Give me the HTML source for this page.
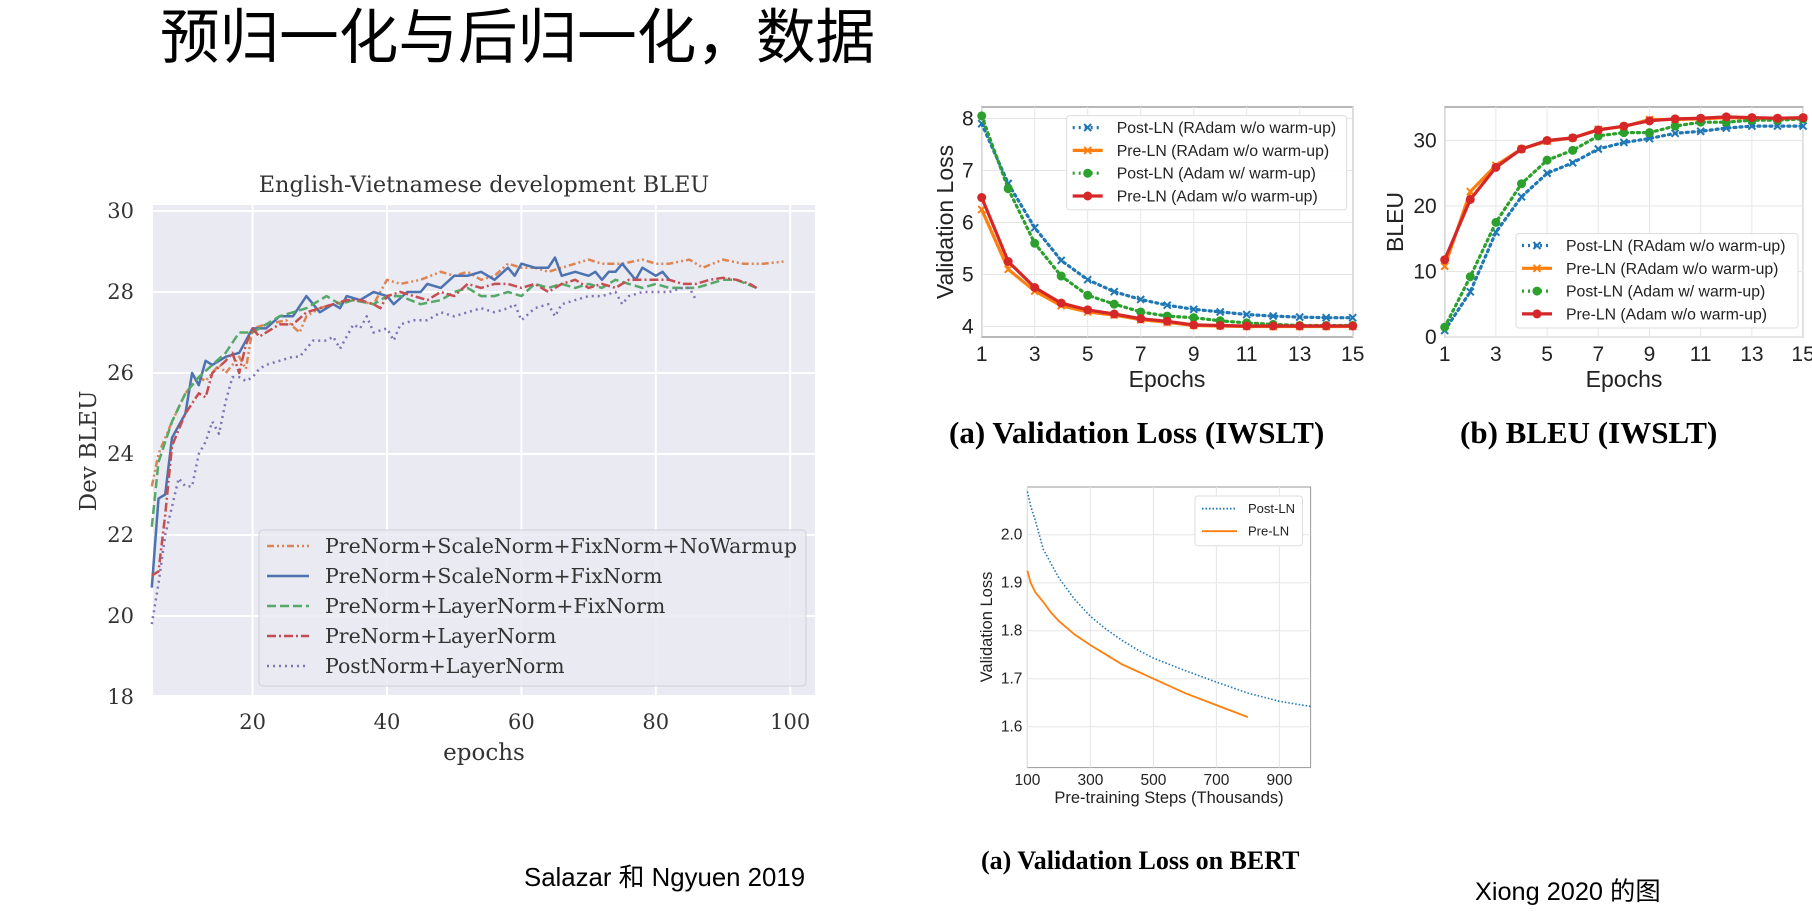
<!DOCTYPE html>
<html><head><meta charset="utf-8">
<style>
html,body{margin:0;padding:0;background:#fff;width:1812px;height:912px;overflow:hidden}
svg{display:block}
.serif{font-family:"DejaVu Serif","Liberation Serif",serif}
.sans{font-family:"Liberation Sans","DejaVu Sans",sans-serif}
.times{font-family:"Liberation Serif","Noto Serif CJK SC",serif}
.cjk{font-family:"Liberation Sans","Noto Sans CJK SC",sans-serif}
</style></head>
<body>
<svg id="s" width="1812" height="912" xmlns="http://www.w3.org/2000/svg">
<text x="160" y="58" class="cjk" font-size="59.6" fill="#000">预归一化与后归一化，数据</text>
<text x="524" y="886" class="cjk" font-size="25.8" fill="#000">Salazar 和 Ngyuen 2019</text>
<text x="1475" y="900" class="cjk" font-size="25.3" fill="#000">Xiong 2020 的图</text>
<text x="949" y="443" class="times" font-size="31" font-weight="bold" fill="#000">(a)  Validation Loss (IWSLT)</text>
<text x="1460" y="443" class="times" font-size="31" font-weight="bold" fill="#000">(b)  BLEU (IWSLT)</text>
<text x="981" y="869" class="times" font-size="26" font-weight="bold" fill="#000">(a)  Validation Loss on BERT</text>
<g id="g1"></g>
<g id="g2"></g>
<g id="g3"></g>
<g id="g4"></g>
</svg>
<script>
// ---------- Chart 1 data ----------
const nwEpochs=[5,6,8,10,12,13,15,16,18,19,20,22,25,27,28,30,32,35,38,40,42,45,48,50,52,54,56,58,60,62,64,66,68,70,72,75,78,80,82,85,87,90,93,96,99];
const nwVals=[23.2,24,24.8,25.5,25.9,25.8,26.2,26,26.4,26.1,27.1,27.2,27.3,27,27.4,27.6,27.7,27.8,27.7,28.3,28.2,28.3,28.5,28.4,28.5,28.3,28.4,28.7,28.6,28.6,28.5,28.6,28.7,28.8,28.7,28.7,28.8,28.7,28.7,28.8,28.6,28.8,28.7,28.7,28.75];
const snEpochs=[5,6,7,8,10,11,12,13,14,16,18,20,22,24,26,28,30,32,33,34,36,38,40,41,43,45,46,48,50,52,54,56,58,59,60,62,64,65,66,68,70,71,72,73,74,75,76,77,78,80,81,82];
const snVals=[20.7,22.9,23,24.4,25,26,25.7,26.3,26.2,26.4,26.5,27.1,27.1,27.4,27.4,27.9,27.5,27.7,27.6,27.9,27.8,28,27.9,27.7,28,28,28.2,28.1,28.4,28.4,28.5,28.3,28.6,28.4,28.7,28.6,28.6,28.85,28.4,28.5,28.4,28.5,28.3,28.5,28.5,28.7,28.5,28.3,28.6,28.4,28.5,28.3];
const lfEpochs=[5,6,8,10,12,14,16,18,20,22,24,26,28,30,31,33,35,38,40,42,45,48,50,52,54,56,58,60,62,64,66,68,70,72,74,76,78,80,82,84,86,88,90,92,95];
const lfVals=[22.2,23.8,24.8,25.5,25.9,26.2,26.5,27,27,27.2,27.4,27.5,27.6,27.8,27.9,27.7,27.8,27.7,27.9,27.9,27.7,27.8,28,28.1,27.9,27.9,28,27.9,28.2,28.1,28.2,28.1,28.2,28.1,28.3,28.2,28.1,28.2,28.1,28.1,28.1,28.2,28.3,28.3,28.1];
const lnEpochs=[5,6,7,8,10,12,13,14,16,17,18,19,20,21,22,24,26,28,30,32,34,36,38,39,40,42,44,46,48,50,52,54,56,58,60,62,64,66,68,70,72,74,76,78,80,82,84,86,88,90,92,94,95];
const lnVals=[21,21.1,22.5,24.2,25,25.5,25.4,26,26.3,26.5,26,26.7,27.1,26.9,27,27.2,27.2,27.5,27.6,27.7,27.8,27.8,27.7,27.6,27.9,28,27.9,27.8,28,27.9,28.2,28.1,28.2,28.2,28.1,28.2,28,28.2,28.3,28.1,28.2,28.1,28.3,28.3,28.3,28.3,28.2,28.2,28.3,28.35,28.3,28.2,28.1];
const pnEpochs=[5,6,7,8,9,10,11,12,13,14,15,16,17,18,19,20,21,22,24,26,27,28,29,31,32,33,34,35,36,37,38,40,41,42,44,46,48,50,52,54,56,58,59,60,62,64,65,66,68,70,72,74,75,76,78,80,82,84,85,86];
const pnVals=[19.8,20.8,22,22.7,23.4,23.2,23.2,24,24.3,24.8,24.5,25.3,25.9,25.9,25.8,25.9,26.1,26.2,26.3,26.4,26.4,26.6,26.8,26.8,26.9,26.6,26.9,27.2,27.1,27.4,27,27.1,26.8,27.2,27.3,27.3,27.5,27.4,27.5,27.6,27.5,27.6,27.7,27.3,27.6,27.7,27.4,27.7,27.8,27.9,27.9,28,27.7,27.9,28,28,28,28.1,28.1,27.8];
const c1XTicks=[20,40,60,80,100];
const c1YTicks=[18,20,22,24,26,28,30];
const c1Labels=["PreNorm+ScaleNorm+FixNorm+NoWarmup","PreNorm+ScaleNorm+FixNorm","PreNorm+LayerNorm+FixNorm","PreNorm+LayerNorm","PostNorm+LayerNorm"];
// ---------- Chart 2/3 data ----------
const iwEpochs=[1,2,3,4,5,6,7,8,9,10,11,12,13,14,15];
const lossPostRAdam=[7.9,6.75,5.9,5.27,4.9,4.67,4.52,4.41,4.33,4.28,4.23,4.2,4.18,4.17,4.17];
const lossPreRAdam=[6.25,5.1,4.68,4.4,4.28,4.22,4.13,4.08,4.02,4.01,4.0,4.0,4.0,4.0,4.0];
const lossPostAdam=[8.05,6.65,5.6,4.97,4.6,4.43,4.28,4.2,4.17,4.11,4.07,4.04,4.02,4.02,4.02];
const lossPreAdam=[6.48,5.25,4.75,4.45,4.32,4.24,4.15,4.1,4.03,4.02,4.01,4.01,4.01,4.01,4.01];
const bleuPostRAdam=[1,6.9,16,21.4,25,26.6,28.7,29.7,30.3,31.1,31.4,31.9,32.2,32.2,32.2];
const bleuPreRAdam=[10.8,22.2,26.2,28.7,29.9,30.4,31.7,32.1,33.2,33.2,33.3,33.5,33.4,33.3,33.4];
const bleuPostAdam=[1.5,9.2,17.5,23.4,27,28.5,30.7,31.2,31.2,32.2,32.8,32.8,33.1,33.1,33.3];
const bleuPreAdam=[11.8,21,25.9,28.7,30,30.4,31.6,32.2,33,33.3,33.4,33.6,33.5,33.4,33.5];
const iwXTicks=[1,3,5,7,9,11,13,15];
const lossYTicks=[4,5,6,7,8];
const bleuYTicks=[0,10,20,30];
const iwLabels=["Post-LN (RAdam w/o warm-up)","Pre-LN (RAdam w/o warm-up)","Post-LN (Adam w/ warm-up)","Pre-LN (Adam w/o warm-up)"];
// ---------- Chart 4 data ----------
const bertPostSteps=[100,110,125,150,175,200,250,300,350,400,450,500,600,700,800,900,1000];
const bertPostVals=[2.09,2.06,2.03,1.97,1.94,1.91,1.865,1.83,1.803,1.78,1.76,1.743,1.717,1.693,1.67,1.653,1.642];
const bertPreSteps=[100,110,125,150,175,200,250,300,350,400,450,500,600,700,800];
const bertPreVals=[1.925,1.9,1.88,1.86,1.838,1.82,1.792,1.77,1.75,1.73,1.715,1.70,1.67,1.645,1.62];
const bertXTicks=[100,300,500,700,900];
const bertYTicks=[1.6,1.7,1.8,1.9,2.0];
const bertLabels=["Post-LN","Pre-LN"];

const NS="http://www.w3.org/2000/svg";
function mk(p,t,a){const e=document.createElementNS(NS,t);for(const k in a)e.setAttribute(k,a[k]);p.appendChild(e);return e;}
function txt(p,x,y,s,a){const e=mk(p,'text',Object.assign({x:x,y:y},a));e.textContent=s;return e;}
function pts(xs,ys,fx,fy){return xs.map((v,i)=>fx(v).toFixed(1)+','+fy(ys[i]).toFixed(1)).join(' ');}

// ===== Chart 1 =====
(function(){
const g=document.getElementById('g1');
const L=153,R=815,T=205,B=695;
const fx=v=>118.2+(v)*6.72, fy=v=>211+(30-v)*40.5;
const bg=mk(g,'rect',{x:L,y:T,width:R-L,height:B-T,fill:'#eaeaf2'});


c1XTicks.forEach(t=>{
 const l=mk(g,'line',{x1:fx(t),x2:fx(t),y1:T,y2:B,stroke:'#fff','stroke-width':2});
 
 
 const tt=txt(g,fx(t),729,String(t),{'text-anchor':'middle','font-size':21,fill:'#333',class:'serif'});
 
 
});
c1YTicks.forEach(t=>{
 const l=mk(g,'line',{x1:L,x2:R,y1:fy(t),y2:fy(t),stroke:'#fff','stroke-width':2});
 
 
 const tt=txt(g,134,fy(t)+7,String(t),{'text-anchor':'end','font-size':21,fill:'#333',class:'serif'});
 
 
});
const ti=txt(g,484,192,'English-Vietnamese development BLEU',{'text-anchor':'middle','font-size':22.4,fill:'#333',class:'serif'});


const xl=txt(g,484,760,'epochs',{'text-anchor':'middle','font-size':23,fill:'#333',class:'serif'});


const yl=txt(g,0,0,'Dev BLEU',{'text-anchor':'middle','font-size':23,fill:'#333',class:'serif',transform:'translate(96,451) rotate(-90)'});


const series=[[nwEpochs,nwVals,'#dd8452','7,3,2,3,2,3'],[snEpochs,snVals,'#4c72b0',''],[lfEpochs,lfVals,'#55a868','9,4'],[lnEpochs,lnVals,'#c44e52','9,3,2,3'],[pnEpochs,pnVals,'#8172b3','2,4']];
const names=['series-prenorm-scalenorm-fixnorm-nowarmup','series-prenorm-scalenorm-fixnorm','series-prenorm-layernorm-fixnorm','series-prenorm-layernorm','series-postnorm-layernorm'];
series.forEach((s,i)=>{
 const p=mk(g,'polyline',{points:pts(s[0],s[1],fx,fy),fill:'none',stroke:s[2],'stroke-width':2.5,'stroke-dasharray':s[3],'stroke-linejoin':'round'});
 
 
});
const lg=mk(g,'g',{});


mk(lg,'rect',{x:259,y:530,width:547,height:156,rx:4,fill:'#eaeaf2','fill-opacity':0.85,stroke:'#d0d0d8'});
series.forEach((s,i)=>{
 const y=546+i*30;
 mk(lg,'line',{x1:267,x2:309,y1:y,y2:y,stroke:s[2],'stroke-width':2.5,'stroke-dasharray':s[3]});
 const t=txt(lg,325,y+7,c1Labels[i],{'font-size':20.5,fill:'#333',class:'serif'});
 
 
});
})();

// ===== Generic IWSLT chart =====
function iw(gid,L,R,T,B,fx,fy,yTicks,ylab,ylx,data,legBox,xlabX){
 const g=document.getElementById(gid);
 const r=mk(g,'rect',{x:L,y:T,width:R-L,height:B-T,fill:'#fff',stroke:'#888','stroke-width':1.2});
 
 
 iwXTicks.forEach(t=>{
  mk(g,'line',{x1:fx(t),x2:fx(t),y1:T,y2:B,stroke:'#e6e6e6','stroke-width':1});
  const tt=txt(g,fx(t),361,String(t),{'text-anchor':'middle','font-size':21,fill:'#222',class:'sans'});
  
  
 });
 yTicks.forEach(t=>{
  mk(g,'line',{x1:L,x2:R,y1:fy(t),y2:fy(t),stroke:'#e6e6e6','stroke-width':1});
  const tt=txt(g,L-8,fy(t)+7,String(t),{'text-anchor':'end','font-size':21,fill:'#222',class:'sans'});
  
  
 });
 const xl=txt(g,xlabX,387,'Epochs',{'text-anchor':'middle','font-size':23,fill:'#222',class:'sans'});
 
 
 const yl=txt(g,0,0,ylab,{'text-anchor':'middle','font-size':23,fill:'#222',class:'sans',transform:'translate('+ylx+','+((T+B)/2)+') rotate(-90)'});
 
 
 const styles=[['#1f77b4','2,4','x'],['#ff7f0e','','x'],['#2ca02c','2,4','o'],['#d62728','','o']];
 const names=['series-post-ln-radam','series-pre-ln-radam','series-post-ln-adam','series-pre-ln-adam'];
 function marker(p,x,y,st){
  if(st[2]==='o')mk(p,'circle',{cx:x,cy:y,r:4.5,fill:st[0]});
  else{mk(p,'path',{d:'M'+(x-3.5)+','+(y-3.5)+'L'+(x+3.5)+','+(y+3.5)+'M'+(x-3.5)+','+(y+3.5)+'L'+(x+3.5)+','+(y-3.5),stroke:st[0],'stroke-width':2});}
 }
 data.forEach((d,i)=>{
  const st=styles[i];
  const sg=mk(g,'g',{});
  
  
  mk(sg,'polyline',{points:pts(iwEpochs,d,fx,fy),fill:'none',stroke:st[0],'stroke-width':3.2,'stroke-dasharray':st[1],'stroke-linecap':'round'});
  iwEpochs.forEach((e,j)=>marker(sg,fx(e),fy(d[j]),st));
 });
 const lg=mk(g,'g',{});
 
 
 mk(lg,'rect',{x:legBox[0],y:legBox[1],width:legBox[2],height:legBox[3],rx:3,fill:'#fff','fill-opacity':0.9,stroke:'#ddd'});
 iwLabels.forEach((s,i)=>{
  const y=legBox[1]+12+i*22.8, x0=legBox[0]+6;
  mk(lg,'line',{x1:x0,x2:x0+30,y1:y,y2:y,stroke:styles[i][0],'stroke-width':3.2,'stroke-dasharray':styles[i][1]});
  marker(lg,x0+15,y,styles[i]);
  const t=txt(lg,legBox[0]+50,y+5.5,s,{'font-size':15.8,fill:'#222',class:'sans'});
  
  
 });
}
iw('g2',981.7,1352.8,107,337,e=>981.7+(e-1)*26.5,v=>118.5+(8-v)*52,lossYTicks,'Validation Loss',953,
 [lossPostRAdam,lossPreRAdam,lossPostAdam,lossPreAdam],[1066.7,115.6,280,94.2],1167);
iw('g3',1444.7,1803,107,337,e=>1444.7+(e-1)*25.6,v=>337-v*6.55,bleuYTicks,'BLEU',1403,
 [bleuPostRAdam,bleuPreRAdam,bleuPostAdam,bleuPreAdam],[1516,233.5,282,94.5],1624);

// ===== Chart 4 =====
(function(){
 const g=document.getElementById('g4');
 const L=1027.4,R=1310.6,T=487,B=767.6;
 const fx=v=>1027.4+(v-100)*0.315, fy=v=>534.7+(2.0-v)*480;
 const r=mk(g,'rect',{x:L,y:T,width:R-L,height:B-T,fill:'#fff',stroke:'#999','stroke-width':1});
 
 
 bertXTicks.forEach(t=>{
  mk(g,'line',{x1:fx(t),x2:fx(t),y1:T,y2:B,stroke:'#e6e6e6'});
  const tt=txt(g,fx(t),785,String(t),{'text-anchor':'middle','font-size':15.5,fill:'#222',class:'sans'});
  
  
 });
 bertYTicks.forEach(t=>{
  mk(g,'line',{x1:L,x2:R,y1:fy(t),y2:fy(t),stroke:'#e6e6e6'});
  const tt=txt(g,L-5,fy(t)+5,t.toFixed(1),{'text-anchor':'end','font-size':15.5,fill:'#222',class:'sans'});
  
  
 });
 const xl=txt(g,1169,803,'Pre-training Steps (Thousands)',{'text-anchor':'middle','font-size':16.5,fill:'#222',class:'sans'});
 
 
 const yl=txt(g,0,0,'Validation Loss',{'text-anchor':'middle','font-size':16.5,fill:'#222',class:'sans',transform:'translate(992,627) rotate(-90)'});
 
 
 const p1=mk(g,'polyline',{points:pts(bertPostSteps,bertPostVals,fx,fy),fill:'none',stroke:'#1f77b4','stroke-width':1.6,'stroke-dasharray':'1.5,2'});
 
 
 const p2=mk(g,'polyline',{points:pts(bertPreSteps,bertPreVals,fx,fy),fill:'none',stroke:'#ff7f0e','stroke-width':1.8});
 
 
 const lg=mk(g,'g',{});
 
 
 mk(lg,'rect',{x:1195,y:496,width:107.5,height:49.7,rx:3,fill:'#fff',stroke:'#ddd'});
 [['#1f77b4','1.5,2'],['#ff7f0e','']].forEach((s,i)=>{
  const y=508.7+i*22.5;
  mk(lg,'line',{x1:1202,x2:1237,y1:y,y2:y,stroke:s[0],'stroke-width':1.8,'stroke-dasharray':s[1]});
  const t=txt(lg,1248,y+4.5,bertLabels[i],{'font-size':13,fill:'#222',class:'sans'});
  
  
 });
})();
</script>
</body></html>
